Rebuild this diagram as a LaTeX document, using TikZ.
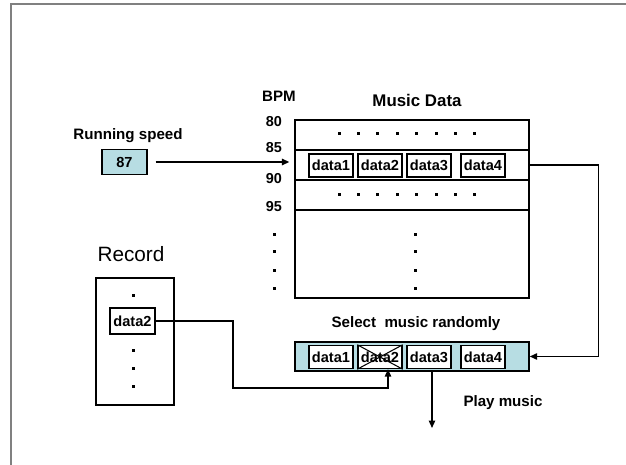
\documentclass[tikz,border=0pt]{standalone}
\usepackage{fontspec}
\setmainfont{Liberation Sans}
\usetikzlibrary{arrows.meta}
\definecolor{selblue}{RGB}{183,221,227}

\begin{document}
\begin{tikzpicture}[x=0.02cm, y=-0.02cm, line width=0.85pt, >={Triangle[length=4.2pt,width=3.6pt]},
	txt/.style={font=\bfseries\fontsize{8.6}{10}\selectfont, anchor=base, inner sep=0pt},
	num/.style={font=\bfseries\fontsize{8.2}{10}\selectfont, anchor=base, inner sep=0pt},
	cell/.style={draw, fill=white, font=\bfseries\fontsize{8.3}{10}\selectfont, minimum width=0.88cm, minimum height=0.46cm, inner sep=0pt},
	tablerow/.style={draw, minimum width=4.68cm, inner sep=0pt},
	pad/.style={draw, fill=selblue, inner sep=0pt}]
	\useasboundingbox (0,0) rectangle (626,465);
	\draw [gray, line width=1pt] (11,465) -- (11,4) -- (626,4);

	% running speed
	\node [txt] (runlbl) at (128,140) {Running speed};
	\node [pad, font=\bfseries\fontsize{8.3}{10}\selectfont, minimum width=0.9cm, minimum height=0.5cm] (speed) at (124.5,162) {87};

	% music data table
	\node [txt] (bpm) at (279,102) {BPM};
	\node [txt, font=\bfseries\fontsize{9.6}{11}\selectfont] (musiclbl) at (417,107) {Music Data};
	\foreach \v/\y in {80/127, 85/153, 90/184, 95/212}
		\node [num] (bpm\v) at (274,\y) {\v};
	\node [tablerow, minimum height=0.6cm] (row80) at (412,135) {};
	\node [tablerow, minimum height=0.6cm] (row85) at (412,165) {};
	\node [tablerow, minimum height=0.6cm] (row90) at (412,195) {};
	\node [tablerow, minimum height=1.76cm] (rowrest) at (412,254) {};
	\foreach \i/\x in {1/331, 2/380, 3/429, 4/483}
		\node [cell] (md\i) at (\x,165.5) {data\i};
	\foreach \x in {339,358.4,...,476} {
		\fill [shift={(\x,134)}] (-1.5,-1.5) rectangle (1.5,1.5);
		\fill [shift={(\x,195)}] (-1.5,-1.5) rectangle (1.5,1.5);
	}
	\foreach \y in {235,252,271,289} {
		\fill [shift={(274,\y)}] (-1.5,-1.5) rectangle (1.5,1.5);
		\fill [shift={(415,\y)}] (-1.5,-1.5) rectangle (1.5,1.5);
	}

	% random selection
	\node [txt] (sellbl) at (416,328) {Select\ \ music randomly};
	\node [pad, minimum width=4.68cm, minimum height=0.58cm] (selbox) at (412,356.5) {};
	\foreach \i/\x in {1/331, 2/380, 3/429, 4/483}
		\node [cell] (sel\i) at (\x,357) {data\i};
	\draw [line width=0.6pt] (sel2.north west) -- (sel2.south east) (sel2.north east) -- (sel2.south west);

	% record
	\node [font=\fontsize{11.8}{14}\selectfont, anchor=base, inner sep=0pt] (reclbl) at (131,262) {Record};
	\node [draw, minimum width=1.56cm, minimum height=2.54cm] (recbox) at (135,341.5) {};
	\node [cell, minimum width=0.9cm, minimum height=0.52cm] (rec2) at (132.5,321) {data2};
	\foreach \y in {296,351,369,387}
		\fill [shift={(133,\y)}] (-1.5,-1.5) rectangle (1.5,1.5);

	\node [txt] (playlbl) at (503,407) {Play music};
	\coordinate (bend) at (233,388);
	\coordinate (playend) at (432,428);

	\draw [->, shorten <=4.5pt, shorten >=2.8pt] (speed) -- (speed -| row85.west);
	\draw [->] (row85.east) -- ++(69,0) |- (selbox.east);
	\draw [->] (rec2.east) -| (bend) -| ([xshift=0.16cm]sel2.south);
	\draw [->] (selbox.south -| playend) -- (playend);
\end{tikzpicture}
\end{document}
